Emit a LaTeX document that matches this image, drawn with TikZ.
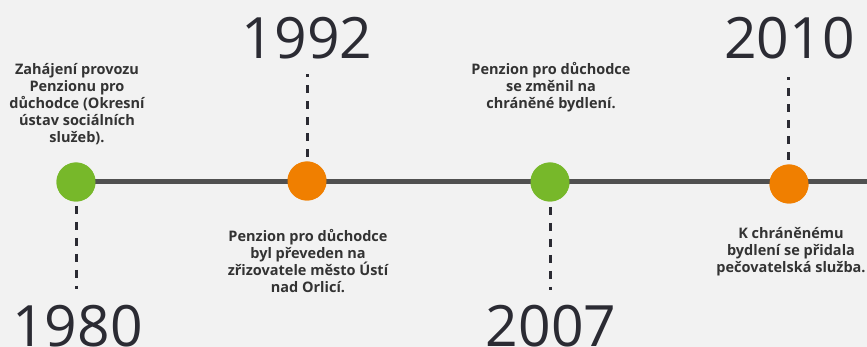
\documentclass[tikz,border=0pt]{standalone}
\usepackage{fontspec}
\setmainfont{Open Sans}
\definecolor{bg}{HTML}{F2F2F2}
\definecolor{linegray}{HTML}{505050}
\definecolor{dotgreen}{HTML}{77B82A}
\definecolor{dotorange}{HTML}{F07F00}
\definecolor{txt}{HTML}{333333}
\definecolor{yeartxt}{HTML}{2B2B33}
\begin{document}
\begin{tikzpicture}[x=1pt,y=-1pt,
  dot/.style={circle,minimum size=39pt,inner sep=0pt,draw=none},
  gdot/.style={dot,fill=dotgreen},
  odot/.style={dot,fill=dotorange},
  axis/.style={line width=5pt,draw=linegray},
  dashline/.style={line width=3pt,draw=yeartxt,dash pattern=on 8pt off 8pt},
  desc/.style={align=center,inner sep=0pt,text=txt,font=\bfseries\fontsize{14.5}{17}\selectfont},
  year/.style={anchor=base,inner sep=0pt,text=yeartxt,font=\fontsize{57}{57}\selectfont}]
\fill[bg] (0,0) rectangle (867,347);
\useasboundingbox (0,0) rectangle (867,347);
\coordinate (lend) at (867,182);
\node[gdot] (c1) at (76,182) {};
\node[odot] (c2) at (307,181) {};
\node[gdot] (c3) at (550,182) {};
\node[odot] (c4) at (789,184) {};
\draw[axis] (c1.center) -- (lend);
\node[gdot] at (c1) {};
\node[odot] at (c2) {};
\node[gdot] at (c3) {};
\node[odot] at (c4) {};
% dashed connectors
\coordinate (d1a) at (76,206);  \coordinate (d1b) at (76,289);
\coordinate (d2a) at (307,157); \coordinate (d2b) at (307,74);
\coordinate (d3a) at (550,207); \coordinate (d3b) at (550,290);
\coordinate (d4a) at (788,160); \coordinate (d4b) at (788,77);
\draw[dashline] (d1a) -- (d1b);
\draw[dashline] (d2a) -- (d2b);
\draw[dashline] (d3a) -- (d3b);
\draw[dashline] (d4a) -- (d4b);
% years
\node[year] (y1) at (77.5,346) {1980};
\node[year] (y2) at (307,59) {1992};
\node[year] (y3) at (551,346) {2007};
\node[year] (y4) at (789.5,59) {2010};
% descriptions
\node[desc] (t1) at (77,104) {Zahájení provozu\\Penzionu pro\\důchodce (Okresní\\ústav sociálních\\služeb).};
\node[desc] (t2) at (308,261) {Penzion pro důchodce\\byl převeden na\\zřizovatele město Ústí\\nad Orlicí.};
\node[desc] (t3) at (551,87) {Penzion pro důchodce\\se změnil na\\chráněné bydlení.};
\node[desc] (t4) at (791,252) {K chráněnému\\bydlení se přidala\\pečovatelská služba.};
\end{tikzpicture}
\end{document}
